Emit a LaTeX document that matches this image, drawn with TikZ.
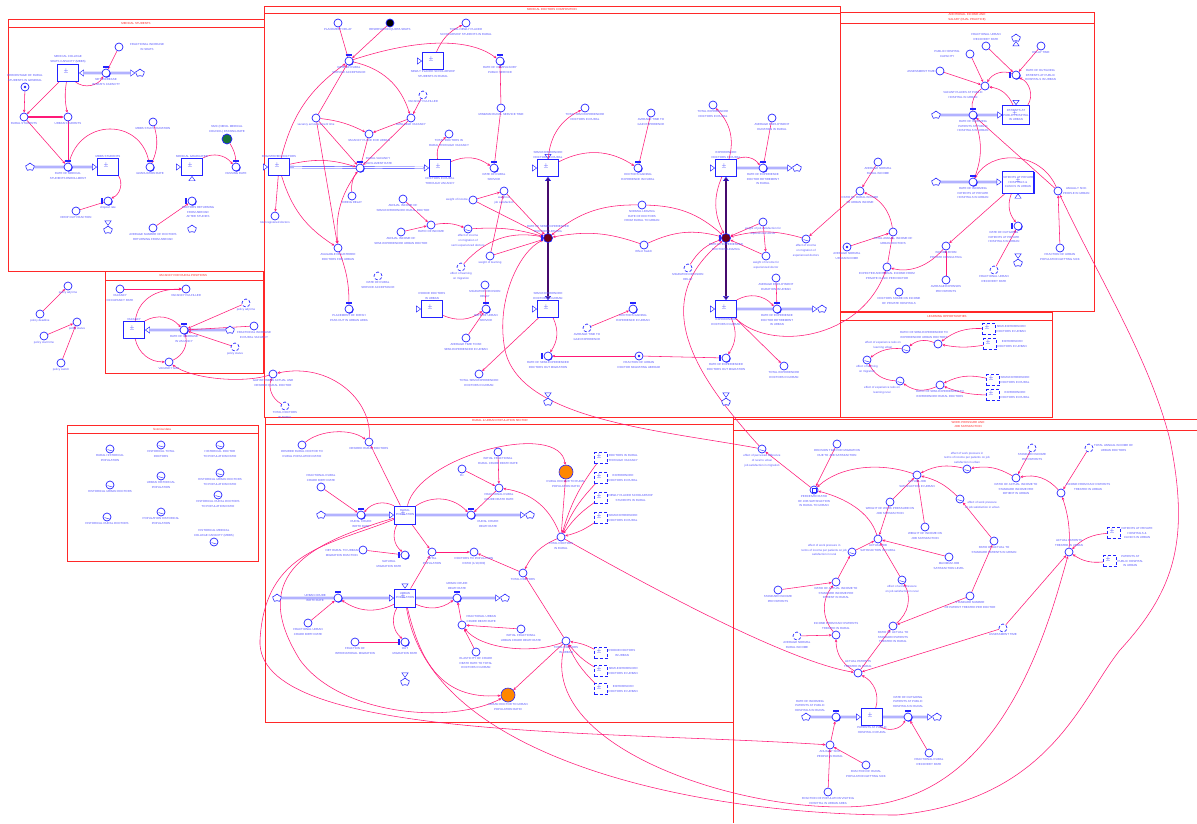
\documentclass[tikz,border=0pt]{standalone}
\usepackage{fontspec}
\setmainfont{Liberation Sans}
\usetikzlibrary{arrows.meta,shapes.symbols,shadows,backgrounds}
\definecolor{sdblue}{RGB}{35,35,255}
\definecolor{lblue}{RGB}{85,85,255}
\definecolor{sdpink}{RGB}{255,25,120}
\definecolor{sdred}{RGB}{255,40,40}
\definecolor{valvedark}{RGB}{110,0,25}
\definecolor{flowpurple}{RGB}{70,10,110}
\definecolor{sdorange}{RGB}{255,135,0}
\definecolor{sdgreen}{RGB}{25,115,55}
\newcommand\lbfont{\fontsize{2.9}{4.9}\selectfont}
\newcommand\pmfont{\fontsize{4.5}{4.5}\selectfont}
\begin{document}
\begin{tikzpicture}[x=1pt,y=-1pt,
    lb/.style={text=lblue,font=\lbfont,align=center,inner sep=0.6pt},
    sectitle/.style={text=sdred,font=\lbfont,align=center,inner sep=0pt},
    aux/.style={circle,draw=sdblue,line width=0.7pt,minimum size=8pt,inner sep=0pt,fill=white},
    ghost/.style={aux,densely dashed},
    dotaux/.style={aux,path picture={\fill[sdblue] (path picture bounding box.center) circle[radius=1.4pt];}},
    lookup/.style={aux,path picture={\draw[sdblue,line width=0.4pt] ([shift={(-2.4pt,-0.6pt)}]path picture bounding box.center) .. controls +(1.2pt,-1.8pt) and +(-1.2pt,1.2pt) .. ([shift={(2.4pt,-1.6pt)}]path picture bounding box.center);}},
    smoothaux/.style={aux,path picture={\draw[sdblue,line width=0.4pt] ([shift={(-2pt,-2pt)}]path picture bounding box.center) rectangle ([shift={(2pt,2pt)}]path picture bounding box.center);}},
    valvecap/.style={rectangle,fill=sdblue,minimum width=5.5pt,minimum height=2.2pt,inner sep=0pt},
    valvecapl/.style={rectangle,fill=sdblue,minimum width=2.2pt,minimum height=5.5pt,inner sep=0pt},
    valve/.style={aux,drop shadow={shadow xshift=0.7pt,shadow yshift=-0.7pt,fill=sdblue,opacity=1},label={[valvecap]90:{}}},
    valvel/.style={aux,drop shadow={shadow xshift=0.7pt,shadow yshift=-0.7pt,fill=sdblue,opacity=1},label={[valvecapl]180:{}}},
    darkvalve/.style={aux,fill=valvedark,minimum size=9pt,label={[valvecapl]180:{}}},
    orangeaux/.style={circle,draw=sdblue,fill=sdorange,line width=0.6pt,minimum size=14pt,inner sep=0pt},
    stock/.style={rectangle,draw=sdblue,line width=0.9pt,minimum width=21pt,minimum height=17pt,inner sep=0.5pt,fill=white,
        drop shadow={shadow xshift=0.9pt,shadow yshift=-0.9pt,fill=sdblue,opacity=1},
        path picture={\node[font=\pmfont,text=sdblue,inner sep=0pt,anchor=south east] at ([shift={(-1.5pt,1pt)}]path picture bounding box.south east) {$\pm$};}},
    popstock/.style={stock,minimum width=21pt,minimum height=18pt},
    gstock/.style={rectangle,draw=sdblue,densely dashed,line width=0.7pt,minimum width=13pt,minimum height=11pt,inner sep=0pt,fill=white,
        path picture={\node[font=\pmfont,text=sdblue,inner sep=0pt,anchor=south east] at ([shift={(-1.5pt,1pt)}]path picture bounding box.south east) {$\pm$};}},
    cloudn/.style={cloud,cloud puffs=5,aspect=1.1,draw=sdblue,line width=0.6pt,minimum width=9pt,minimum height=8pt,inner sep=0pt,fill=white},
    pipe/.style={draw=sdblue,double=white,double distance=1.3pt,line width=0.45pt},
    pipeto/.style={pipe,-{Triangle[fill=white,length=5pt,width=7pt]}},
    pipebi/.style={pipe,{Triangle[fill=white,length=5pt,width=7pt]}-{Triangle[fill=white,length=5pt,width=7pt]}},
    bigflow/.style={draw=sdblue,double=flowpurple,double distance=1.8pt,line width=0.4pt,{Triangle[fill=flowpurple,length=4pt,width=6pt]}-{Triangle[fill=flowpurple,length=4pt,width=6pt]}},
    cn/.style={draw=sdpink,line width=0.55pt,-{Stealth[length=2.8pt,width=2.6pt]}},
    sector/.style={draw=sdred,line width=0.8pt}
]
\useasboundingbox (0,0) rectangle (1197,823);

\node[sectitle] (tms) at (136,23) {MEDICAL STUDENTS};
\node[sectitle] (tdc) at (552,9.5) {MEDICAL DOCTORS COMPOSITION};
\node[sectitle] (tai) at (967,17.5) {ADDITIONAL INCOME AND\\SALARY (DUAL PRACTICE)};
\node[sectitle] (tlo) at (947,316) {LEARNING OPPORTUNITIES};
\node[sectitle] (twp) at (968,424.5) {WORK PRESSURE AND\\JOB SATISFACTION};
\node[sectitle] (tvr) at (183,275.5) {VACANCY FOR RURAL POSITIONS};
\node[sectitle] (thd) at (162,429) {historical data};
\node[sectitle] (tps) at (500,420.5) {RURAL \& URBAN POPULATION SECTOR};

\node[aux,label={[lb,label distance=6pt]right:{FRACTIONAL INCREASE\\IN SEATS}}] (fis) at (119,47) {};
\node[stock,label={[lb]above:{MEDICAL COLLEGE\\SEATS CAPACITY (MBBS)}}] (msc) at (68,73) {};
\node[valve,label={[lb]below:{NET INCREASE\\IN SEATS CAPACITY}}] (nis) at (106,73) {};
\node[cloudn] (c1) at (140,73) {};
\node[dotaux,label={[lb]above:{PERCENTAGE OF RURAL\\STUDENTS IN GENERAL}}] (pct) at (25,87) {};
\node[aux,label={[lb]below:{RURAL STUDENTS}}] (rst) at (24,117) {};
\node[aux,label={[lb]below:{URBAN STUDENTS}}] (ust) at (68,117) {};
\node[aux,label={[lb]below:{MBBS STUDY DURATION}}] (msd) at (153,122) {};
\node[aux,fill=sdgreen,minimum size=10pt,label={[lb]above:{NMC (NEPAL MEDICAL\\COUNCIL) PASSING RATE}}] (nmc) at (227,139) {};
\node[valve,label={[lb]below:{RATE OF MEDICAL\\STUDENTS ENROLLMENT}}] (rme) at (68,167) {};
\node[cloudn] (c2) at (30,167) {};
\node[stock,label={[lb]above:{MBBS STUDENTS}}] (mbs) at (108,167) {};
\node[valve,label={[lb]below:{GRADUATION RATE}}] (grr) at (150,167) {};
\node[stock,label={[lb]above:{MEDICAL GRADUATED}}] (mgr) at (192,167) {};
\node[valve,label={[lb]below:{PASSING RATE}}] (psr) at (236,167) {};
\node[stock,label={[lb]above:{REGISTERED DOCTORS}}] (rgd) at (279,167) {};
\node[valvel,label={[lb]below:{dropout rate}}] (dor) at (108,201) {};
\node[cloudn] (c3) at (108,230) {};
\node[aux,label={[lb]below:{DROP OUT FRACTION}}] (dof) at (76,211) {};
\node[valvel,label={[lb,xshift=6pt]below:{DOCTORS RETURNING\\FROM ABROAD\\AFTER STUDIES}}] (dra) at (192,201) {};
\node[cloudn] (c4) at (192,229) {};
\node[aux,label={[lb]below:{AVERAGE NUMBER OF DOCTORS\\RETURNING FROM ABROAD}}] (anr) at (153,228) {};
\node[aux,label={[lb]below:{total registered doctors}}] (trd) at (275,216) {};

\node[aux,label={[lb]below:{PLACEMENT DELAY}}] (pld) at (338,23) {};
\node[aux,fill=black,label={[lb]below:{RESERVATION QUOTA SEATS}}] (rqs) at (390,23) {};
\node[aux,label={[lb]below:{TOTAL NEWLY PLACED\\SCHOLARSHIP STUDENTS IN RURAL}}] (tnp) at (466,23) {};
\node[valve,label={[lb]below:{RATE OF RURAL\\SERVICE ACCEPTANCE}}] (rrsa) at (349,61) {};
\node[stock,label={[lb]below:{NEWLY PLACED SCHOLARSHIP\\STUDENTS IN RURAL}}] (nps) at (433,61) {};
\node[valve,label={[lb]below:{RATE OF COMPULSORY\\PUBLIC SERVICE}}] (rcps) at (500,61) {};
\node[ghost,label={[lb]below:{VACANCY FULFILLED}}] (vff) at (423,95) {};
\node[aux,label={[lb]below:{AVAILABLE VACANCY}}] (avv) at (411,118) {};
\node[aux,label={[lb]below:{vacancy announcement time}}] (vat) at (316,118) {};
\node[aux,label={[lb]below:{VACANCY PLACE FOR URBAN}}] (vpu) at (369,134) {};
\node[aux,label={[lb]below:{TOTAL DOCTORS IN\\RURAL THROUGH VACANCY}}] (tdrv) at (449,134) {};
\node[aux,label={[lb]below:{MINIMUM RURAL SERVICE TIME}}] (mrst) at (501,108) {};
\node[aux,label={[lb]below:{TOTAL SEMI EXPERIENCED\\DOCTORS IN RURAL}}] (tser) at (585,108) {};
\node[valve,label={[lb]40:{RURAL VACANCY\\FULFILLMENT RATE}}] (rvfr) at (360,168) {};
\node[stock,label={[lb]below:{DOCTORS IN RURAL\\THROUGH VACANCY}}] (dirv) at (440,168) {};
\node[valve,label={[lb]below:{RATE OF RURAL\\SERVICE}}] (rrs) at (494,168) {};
\node[stock,label={[lb]above:{SEMI-EXPERIENCED\\DOCTORS IN RURAL}}] (serr) at (548,168) {};
\node[aux,label={[lb]below:{HIRING DELAY}}] (hrd) at (352,196) {};
\node[aux,label={[lb]left:{weight of income}}] (woi) at (473,200) {};
\node[aux,label={[lb]below:{weight of\\job satisfaction}}] (wjs) at (504,191) {};
\node[aux,label={[lb]below:{ANNUAL INCOME OF\\SEMI-EXPERIENCED RURAL DOCTOR}}] (aisr) at (403,199) {};
\node[aux,label={[lb]below:{RATIO OF INCOME}}] (roi) at (431,225) {};
\node[aux,label={[lb]below:{ANNUAL INCOME OF\\SEMI-EXPERIENCED URBAN DOCTOR}}] (aisu) at (401,232) {};
\node[lookup,label={[lb]below:{effect of income\\on migration of\\semi experienced doctors}}] (eim) at (468,229) {};
\node[aux,label={[lb]below:{weight of learning}}] (wol) at (490,256) {};
\node[ghost,label={[lb]below:{effect of learning\\on migration}}] (elm) at (461,267) {};
\node[darkvalve,label={[lb]above:{RATE OF SEMI-EXPERIENCED\\DOCTORS LEAVING}}] (rsl) at (548,238) {};
\node[aux,label={[lb]below:{AVAILABLE REGISTERED\\DOCTORS FOR URBAN}}] (ardu) at (338,248) {};
\node[ghost,label={[lb]below:{RATE OF RURAL\\SERVICE ACCEPTANCE}}] (rrsg) at (378,276) {};

\node[aux,label={[lb]below:{AVERAGE TIME TO\\GAIN EXPERIENCE}}] (atge) at (651,113) {};
\node[valve,label={[lb]below:{DOCTORS GAINING\\EXPERIENCE IN RURAL}}] (dger) at (638,168) {};
\node[aux,label={[lb]below:{TOTAL EXPERIENCED\\DOCTORS IN RURAL}}] (tedr) at (713,105) {};
\node[stock,label={[lb]above:{EXPERIENCED\\DOCTORS IN RURAL}}] (edr) at (726,168) {};
\node[aux,label={[lb]below:{AVERAGE EMPLOYMENT\\DURATION IN RURAL}}] (aedr) at (772,118) {};
\node[valve,label={[lb]below:{RATE OF EXPERIENCE\\DOCTOR RETIREMENT\\IN RURAL}}] (redr) at (763,168) {};
\node[cloudn] (c5) at (797,168) {};
\node[aux,label={[lb]below:{NORMAL LEAVING\\RATE OF DOCTORS\\FROM RURAL TO URBAN}}] (nlr) at (642,205) {};
\node[aux,label={[lb]below:{Effect Switch}}] (esw) at (644,245) {};
\node[darkvalve,label={[lb]below:{RATE OF EXPERIENCED\\DOCTORS LEAVING}}] (rel) at (726,238) {};
\node[aux,label={[lb]below:{weight of job satisfaction for\\experienced doctor}}] (wje) at (763,222) {};
\node[aux,label={[lb]below:{weight of income for\\experienced doctor}}] (wie) at (766,256) {};
\node[lookup,label={[lb]below:{effect of income\\on migration of\\experienced doctors}}] (eie) at (806,239) {};
\node[ghost,label={[lb]below:{MIGRATION DECISION\\DELAY}}] (mddg) at (688,268) {};
\node[aux,label={[lb]below:{AVERAGE NORMAL\\RURAL INCOME}}] (anri) at (878,162) {};
\node[aux,label={[lb]below:{RATIO OF RURAL INCOME\\TO URBAN INCOME}}] (rrui) at (860,191) {};
\node[dotaux,label={[lb]below:{AVERAGE NORMAL\\URBAN INCOME}}] (anui) at (847,247) {};
\node[aux,label={[lb]below:{TOTAL ANNUAL INCOME OF\\URBAN DOCTORS}}] (taiu) at (893,232) {};
\node[aux,label={[lb]below:{EXPECTED ADDITIONAL INCOME FROM\\PRIVATE CLINIC PER DOCTOR}}] (eaic) at (887,267) {};
\node[aux,label={[lb]below:{DOCTORS SHARE ON INCOME\\OF PRIVATE HOSPITALS}}] (dsip) at (899,292) {};

\node[aux,label={[lb]above:{FRACTIONAL URBAN\\RECOVERY RATE}}] (furr) at (986,46) {};
\node[aux,label={[lb,label distance=5pt]left:{PUBLIC HOSPITAL\\CAPACITY}}] (phc) at (970,54) {};
\node[aux,label={[lb]below:{DELAY TIME}}] (dlt) at (1041,46) {};
\node[aux,label={[lb]left:{ASSESSMENT TIME}}] (ast) at (940,71) {};
\node[valvel,label={[lb,label distance=4pt]right:{RATE OF OUTGOING\\PATIENTS AT PUBLIC\\HOSPITALS IN URBAN}}] (ropu) at (1016,75) {};
\node[cloudn] (c6) at (1016,38) {};
\node[aux,label={[lb,xshift=-22pt]below:{VACANT PLACES AT PUBLIC\\HOSPITAL IN URBAN}}] (vpph) at (985,86) {};
\node[valve,label={[lb]below:{RATE OF INCOMING\\PATIENTS AT PUBLIC\\HOSPITALS IN URBAN}}] (ripu) at (973,115) {};
\node[cloudn] (c7) at (936,115) {};
\node[stock,minimum width=25pt,minimum height=19pt,font=\lbfont,text=lblue,align=center] (ppu) at (1016,115) {PATIENTS AT\\PUBLIC HOSPITAL\\IN URBAN};
\node[valve,label={[lb]below:{RATE OF INCOMING\\PATIENTS AT PRIVATE\\HOSPITALS IN URBAN}}] (ripv) at (973,182) {};
\node[cloudn] (c8) at (936,182) {};
\node[stock,minimum width=28pt,minimum height=22pt,font=\lbfont,text=lblue,align=center] (ppcu) at (1018,182) {PATIENTS AT PRIVATE\\HOSPITALS \&\\CLINICS IN URBAN};
\node[aux,label={[lb]right:{ANUALLY SICK\\PEOPLE IN URBAN}}] (asu) at (1058,191) {};
\node[valvel,label={[lb,xshift=-14pt]below:{RATE OF OUTGOING\\PATIENTS AT PRIVATE\\HOSPITALS IN URBAN}}] (ropv) at (1018,226) {};
\node[cloudn] (c9) at (1018,263) {};
\node[aux,label={[lb]below:{FRACTION OF URBAN\\POPULATION GETTING SICK}}] (fus) at (1060,248) {};
\node[aux,label={[lb]below:{INCOME FROM\\PRIVATE CONSULTING}}] (ipc) at (946,246) {};
\node[ghost,label={[lb]below:{FRACTIONAL URBAN\\RECOVERY RATE}}] (furr2) at (994,270) {};
\node[aux,label={[lb]below:{AVERAGE EXPENSES\\PER PATIENTS}}] (aep) at (946,280) {};

\node[lookup,label={[lb,yshift=4pt]left:{effect of experience ratio on\\learning urban}}] (eerlu) at (906,349) {};
\node[aux,label={[lb,xshift=-14pt]above:{RATIO OF SEMI-EXPERIENCED TO\\EXPERIENCED URBAN DOCTORS}}] (rseu) at (938,344) {};
\node[lookup,label={[lb]below:{effect of learning\\on migration}}] (elmg) at (867,360) {};
\node[lookup,label={[lb,xshift=-18pt]below:{effect of experience ratio on\\learning rural}}] (eerlr) at (900,381) {};
\node[aux,label={[lb]below:{RATIO OF SEMI-EXPERIENCED TO\\EXPERIENCED RURAL DOCTORS}}] (rser) at (940,385) {};
\node[gstock,label={[lb]right:{SEMI-EXPERIENCED\\DOCTORS IN URBAN}}] (g1) at (989,329) {};
\node[gstock,label={[lb]right:{EXPERIENCED\\DOCTORS IN URBAN}}] (g2) at (990,344) {};
\node[gstock,label={[lb]right:{SEMI-EXPERIENCED\\DOCTORS IN RURAL}}] (g3) at (993,380) {};
\node[gstock,label={[lb]right:{EXPERIENCED\\DOCTORS IN RURAL}}] (g4) at (993,395) {};

\node[valve,label={[lb]below:{PLACEMENT OF FRESH\\PASS OUT IN URBAN AREA}}] (pfpu) at (349,309) {};
\node[stock,label={[lb]above:{ROOKIE DOCTORS\\IN URBAN}}] (rdu) at (432,309) {};
\node[aux,label={[lb]below:{MIGRATION DECISION\\DELAY}}] (mdd) at (485,285) {};
\node[valve,label={[lb]below:{RATE OF URBAN\\SERVICE}}] (rus) at (486,309) {};
\node[aux,label={[lb]below:{AVERAGE TIME TO BE\\SEMI-EXPERIENCED IN URBAN}}] (atsu) at (466,338) {};
\node[stock,label={[lb]above:{SEMI-EXPERIENCED\\DOCTORS IN URBAN}}] (seu) at (548,309) {};
\node[aux,label={[lb]below:{TOTAL SEMI-EXPERIENCED\\DOCTORS IN URBAN}}] (tseu) at (479,374) {};
\node[valvel,label={[lb]below:{RATE OF SEMI-EXPERIENCED\\DOCTORS OUT MIGRATION}}] (rsom) at (548,356) {};
\node[cloudn] (c10) at (548,402) {};
\node[ghost,label={[lb]below:{AVERAGE TIME TO\\GAIN EXPERIENCE}}] (atge2) at (587,328) {};
\node[valve,label={[lb]below:{DOCTORS GAINING\\EXPERIENCE IN URBAN}}] (dgeu) at (633,309) {};
\node[stock,label={[lb]below:{EXPERIENCED\\DOCTORS IN URBAN}}] (edu) at (726,309) {};
\node[aux,label={[lb]below:{AVERAGE EMPLOYMENT\\DURATION IN URBAN}}] (aedu) at (776,278) {};
\node[valve,label={[lb]below:{RATE OF EXPERIENCE\\DOCTOR RETIREMENT\\IN URBAN}}] (redu) at (777,309) {};
\node[cloudn] (c11) at (822,309) {};
\node[dotaux,label={[lb]below:{FRACTION OF URBAN\\DOCTOR MIGRATING ABROAD}}] (fuma) at (639,356) {};
\node[valvel,label={[lb]below:{RATE OF EXPERIENCED\\DOCTORS OUT MIGRATION}}] (reom) at (726,358) {};
\node[cloudn] (c12) at (726,402) {};
\node[aux,label={[lb]below:{TOTAL EXPERIENCED\\DOCTORS IN URBAN}}] (teu) at (784,366) {};

\node[aux,label={[lb]below:{VACANCY\\OCCUPANCY RATE}}] (vor) at (120,289) {};
\node[aux,label={[lb]below:{VACANCY FULFILLED}}] (vfl) at (186,289) {};
\node[stock,label={[lb]above:{VACANCY}}] (vac) at (134,330) {};
\node[valve,label={[lb]below:{RATE OF INCREASE\\IN VACANCY}}] (riv) at (184,330) {};
\node[cloudn] (c20) at (230,330) {};
\node[ghost,label={[lb]below:{policy adj time}}] (pat) at (246,303) {};
\node[aux,label={[lb]below:{FRACTIONAL INCREASE\\IN RURAL VACANCY}}] (fiv) at (254,326) {};
\node[ghost,label={[lb]below:{policy status}}] (pst) at (235,347) {};
\node[aux,label={[lb]below:{VACANCY GAP}}] (vgp) at (169,362) {};
\node[aux,label={[lb]below:{GAP BETWEEN ACTUAL AND\\DESIRED RURAL DOCTOR}}] (gap) at (273,374) {};
\node[ghost,label={[lb]below:{TOTAL DOCTORS\\IN RURAL}}] (tdrg) at (285,406) {};

\node[aux,label={[lb]below:{policy adj time}}] (pat1) at (68,286) {};
\node[aux,label={[lb]below:{policy deadline}}] (pdl) at (40,314) {};
\node[aux,label={[lb]below:{policy status}}] (pst1) at (77,322) {};
\node[aux,label={[lb]below:{policy start time}}] (pstt) at (44,336) {};
\node[aux,label={[lb]below:{policy switch}}] (psw) at (61,363) {};

\node[lookup,label={[lb]below:{RURAL HISTORICAL\\POPULATION}}] (hrp) at (110,449) {};
\node[lookup,label={[lb]below:{HISTORICAL TOTAL\\DOCTORS}}] (htd) at (161,445) {};
\node[lookup,label={[lb]below:{HISTORICAL DOCTOR\\TO POPULATION RATIO}}] (hdp) at (220,445) {};
\node[lookup,label={[lb]below:{HISTORICAL URBAN DOCTORS}}] (hud) at (110,485) {};
\node[lookup,label={[lb]below:{URBAN HISTORICAL\\POPULATION}}] (hup) at (161,476) {};
\node[lookup,label={[lb]below:{HISTORICAL URBAN DOCTORS\\TO POPULATION RATIO}}] (hudp) at (220,473) {};
\node[lookup,label={[lb]below:{HISTORICAL RURAL DOCTORS\\TO POPULATION RATIO}}] (hrdp) at (218,495) {};
\node[lookup,label={[lb]below:{HISTORICAL RURAL DOCTORS}}] (hrdc) at (107,517) {};
\node[lookup,label={[lb]below:{POPULATION HISTORICAL\\POPULATION}}] (hpp) at (161,512) {};
\node[lookup,label={[lb]above:{HISTORICAL MEDICAL\\COLLEGE CAPACITY (MBBS)}}] (hmc) at (214,542) {};

\node[aux,label={[lb]below:{DESIRED RURAL DOCTOR TO\\RURAL POPULATION RATIO}}] (drpr) at (302,445) {};
\node[aux,label={[lb]below:{DESIRED RURAL DOCTORS}}] (drd) at (369,442) {};
\node[aux,label={[lb]above:{FRACTIONAL RURAL\\CRUDE BIRTH RATE}}] (frcb) at (321,487) {};
\node[valve,label={[lb]below:{RURAL CRUDE\\BIRTH RATE}}] (rcbr) at (361,515) {};
\node[cloudn] (c13) at (321,515) {};
\node[popstock,label={[lb,yshift=2.5pt]center:{RURAL\\POPULATION}}] (rpop) at (405,515) {};
\node[aux,label={[lb]below:{Dc}}] (dc) at (462,469) {};
\node[aux,label={[lb]below:{INITIAL FRACTIONAL\\RURAL CRUDE DEATH RATE}}] (ifrc) at (498,452) {};
\node[aux,label={[lb]below:{FRACTIONAL RURAL\\CRUDE DEATH RATE}}] (frcd) at (499,488) {};
\node[valve,label={[lb,xshift=17pt]below:{RURAL CRUDE\\DEATH RATE}}] (rcdr) at (471,515) {};
\node[cloudn] (c14) at (530,515) {};
\node[orangeaux,label={[lb]below:{RURAL DOCTOR TO RURAL\\POPULATION RATIO}}] (rdrp) at (566,472) {};
\node[aux,label={[lb]below:{TOTAL DOCTORS\\IN RURAL}}] (tdr) at (561,537) {};
\node[gstock,label={[lb]right:{DOCTORS IN RURAL\\THROUGH VACANCY}}] (gr1) at (601,458) {};
\node[gstock,label={[lb]right:{EXPERIENCED\\DOCTORS IN RURAL}}] (gr2) at (601,478) {};
\node[gstock,label={[lb]right:{NEWLY PLACED SCHOLARSHIP\\STUDENTS IN RURAL}}] (gr3) at (601,498) {};
\node[gstock,label={[lb]right:{SEMI-EXPERIENCED\\DOCTORS IN RURAL}}] (gr4) at (601,518) {};
\node[aux,label={[lb,yshift=-3pt]left:{NET RURAL TO URBAN\\MIGRATION FRACTION}}] (nrum) at (363,550) {};
\node[valvel,label={[lb,xshift=-16pt]below:{NATURAL\\MIGRATION RATE}}] (nmr) at (405,555) {};
\node[aux,label={[lb]below:{TOTAL\\POPULATION}}] (tpop) at (432,552) {};
\node[aux,label={[lb]below:{DOCTORS TO POPULATION\\RATIO (1/10,000)}}] (dpr) at (474,552) {};
\node[aux,label={[lb]below:{TOTAL DOCTORS}}] (tdoc) at (523,573) {};
\node[valve,label={[lb,label distance=7pt]left:{URBAN CRUDE\\BIRTH RATE}}] (ucbr) at (338,598) {};
\node[cloudn] (c15) at (277,598) {};
\node[popstock,label={[lb,yshift=2.5pt]center:{URBAN\\POPULATION}}] (upop) at (405,598) {};
\node[valve,label={[lb,label distance=3pt]above:{URBAN CRUDE\\DEATH RATE}}] (ucdr) at (457,598) {};
\node[cloudn] (c16) at (505,598) {};
\node[aux,label={[lb]below:{FRACTIONAL URBAN\\CRUDE BIRTH RATE}}] (fucb) at (308,623) {};
\node[aux,label={[lb]below:{FRACTION OF\\INTERNATIONAL MIGRATION}}] (fim) at (355,642) {};
\node[valvel,label={[lb]below:{OUT\\MIGRATION RATE}}] (omr) at (405,642) {};
\node[cloudn] (c17) at (405,682) {};
\node[aux,label={[lb]30:{FRACTIONAL URBAN\\CRUDE DEATH RATE}}] (fucd) at (462,625) {};
\node[aux,label={[lb]below:{INITIAL FRACTIONAL\\URBAN CRUDE DEATH RATE}}] (ifuc) at (521,629) {};
\node[aux,label={[lb]below:{ELASTICITY OF CRUDE\\DEATH RATE TO TOTAL\\DOCTORS IN URBAN}}] (ecd) at (476,652) {};
\node[aux,label={[lb]below:{TOTAL DOCTORS\\IN URBAN}}] (tdu) at (566,641) {};
\node[orangeaux,label={[lb]below:{URBAN DOCTOR TO URBAN\\POPULATION RATIO}}] (udrp) at (508,695) {};
\node[gstock,label={[lb]right:{ROOKIE DOCTORS\\IN URBAN}}] (gu1) at (601,653) {};
\node[gstock,label={[lb]right:{SEMI-EXPERIENCED\\DOCTORS IN URBAN}}] (gu2) at (601,671) {};
\node[gstock,label={[lb]right:{EXPERIENCED\\DOCTORS IN URBAN}}] (gu3) at (601,689) {};

\node[lookup,label={[lb]below:{effect of perceived difference\\of rural to urban\\job satisfaction in migration}}] (epd) at (762,449) {};
\node[aux,label={[lb]below:{DECISION TIME FOR MIGRATION\\DUE TO JOB SATISFACTION}}] (dtm) at (837,444) {};
\node[smoothaux,label={[lb]below:{PERCEIVED RATIO\\OF JOB SATISFACTION\\IN RURAL TO URBAN}}] (prj) at (814,490) {};
\node[aux,label={[lb]below:{WEIGHT OF WORK PRESSURE ON\\JOB SATISFACTION}}] (wwp) at (890,502) {};
\node[aux,label={[lb]below:{ACTUAL JOB\\SATISFACTION IN URBAN}}] (ajsu) at (917,475) {};
\node[lookup,label={[lb]above:{effect of work pressure in\\terms of income per patients on job\\satisfaction in urban}}] (ewiu) at (967,469) {};
\node[ghost,label={[lb]below:{STANDARD INCOME\\PER PATIENTS}}] (sipu) at (1032,448) {};
\node[ghost,label={[lb]right:{TOTAL ANNUAL INCOME OF\\URBAN DOCTORS}}] (taiu2) at (1089,448) {};
\node[aux,label={[lb]below:{RATIO OF ACTUAL INCOME TO\\STANDARD INCOME PER\\PATIENT IN URBAN}}] (riu) at (1016,478) {};
\node[aux,label={[lb]20:{INCOME FROM EACH PATIENTS\\TREATED IN URBAN}}] (ieu) at (1061,493) {};
\node[lookup,label={[lb]-20:{effect of work pressure\\on job satisfaction in urban}}] (ewu) at (960,499) {};
\node[aux,label={[lb]below:{WEIGHT OF INCOME ON\\JOB SATISFACTION}}] (wij) at (925,527) {};
\node[aux,label={[lb]below:{RATIO OF ACTUAL TO\\STANDARD PATIENTS IN URBAN}}] (rspu) at (994,541) {};
\node[aux,label={[lb]above:{ACTUAL PATIENTS\\TREATED IN URBAN}}] (apu) at (1069,552) {};
\node[gstock,label={[lb]right:{PATIENTS AT PRIVATE\\HOSPITALS \&\\CLINICS IN URBAN}}] (g5) at (1114,533) {};
\node[gstock,label={[lb]right:{PATIENTS AT\\PUBLIC HOSPITAL\\IN URBAN}}] (g6) at (1110,561) {};
\node[aux,label={[lb]below:{MAXIMUM JOB\\SATISFACTION LEVEL}}] (mjs) at (949,557) {};
\node[lookup,label={[lb]below:{effect of work pressure\\on job satisfaction in rural}}] (ewr) at (902,580) {};
\node[aux,label={[lb]below:{STANDARD NUMBER\\OF PATIENT TREATED PER DOCTOR}}] (snp) at (970,596) {};
\node[ghost,label={[lb]below:{ASSESSMENT TIME}}] (ast2) at (1003,628) {};
\node[aux,label={[lb]below:{RATIO OF ACTUAL TO\\STANDARD PATIENTS\\TREATED IN RURAL}}] (rspr) at (893,626) {};
\node[aux,label={[lb]below:{ACTUAL JOB\\SATISFACTION IN RURAL}}] (ajsr) at (878,539) {};
\node[lookup,label={[lb,yshift=2pt]left:{effect of work pressure in\\terms of income per patients on job\\satisfaction in rural}}] (ewir) at (852,552) {};
\node[aux,label={[lb]below:{RATIO OF ACTUAL INCOME TO\\STANDARD INCOME PER\\PATIENT IN RURAL}}] (rir) at (836,582) {};
\node[aux,label={[lb]below:{STANDARD INCOME\\PER PATIENTS}}] (sip) at (778,590) {};
\node[aux,label={[lb]above:{INCOME FROM EACH PATIENTS\\TREATED IN RURAL}}] (ier) at (836,635) {};
\node[ghost,label={[lb]below:{AVERAGE NORMAL\\RURAL INCOME}}] (anri2) at (797,636) {};
\node[aux,label={[lb]above:{ACTUAL PATIENTS\\TREATED IN RURAL}}] (apr) at (858,673) {};
\node[valve,label={[lb,xshift=-26pt]above:{RATE OF INCOMING\\PATIENTS AT PUBLIC\\HOSPITALS IN RURAL}}] (rip) at (836,717) {};
\node[cloudn] (c18) at (806,717) {};
\node[stock,label={[lb]below:{PATIENTS AT PUBLIC\\HOSPITAL IN RURAL}}] (pphr) at (872,717) {};
\node[valve,label={[lb,label distance=4pt]above:{RATE OF OUTGOING\\PATIENTS AT PUBLIC\\HOSPITALS IN RURAL}}] (rop) at (908,717) {};
\node[cloudn] (c19) at (937,717) {};
\node[aux,label={[lb]below:{FRACTIONAL RURAL\\RECOVERY RATE}}] (frrr) at (929,753) {};
\node[aux,label={[lb]below:{ANUALLY SICK\\PEOPLE IN RURAL}}] (asr) at (830,745) {};
\node[aux,label={[lb]below:{FRACTION OF RURAL\\POPULATION GETTING SICK}}] (frs) at (866,765) {};
\node[aux,label={[lb]below:{FRACTION OF POPULATION VISITING\\HOSPITAL IN URBAN AREA}}] (fpv) at (828,792) {};

\begin{scope}[on background layer]
\fill[white] (0,0) rectangle (1197,823);
\draw[sector] (8,19) rectangle (264,271) (8,27) -- (264,27);
\draw[sector] (264,6) rectangle (840,417) (264,13) -- (840,13);
\draw[sector] (840,12) rectangle (1094,311) (840,23) -- (1094,23);
\draw[sector] (840,312) rectangle (1052,417) (840,320) -- (1052,320);
\draw[sector] (1197,419) -- (733,419) -- (733,823) (733,430) -- (1197,430);
\draw[sector] (105,271) rectangle (263,373) (105,280) -- (263,280);
\draw[sector] (67,425) rectangle (258,561) (67,433) -- (258,433);
\draw[sector] (265,417) rectangle (733,722) (265,424) -- (733,424);

\draw[pipebi] (msc) -- (c1);
\draw[pipeto] (c2) -- (mbs);
\draw[pipeto] (mbs) -- (mgr);
\draw[pipeto] (mgr) -- (rgd);
\draw[pipeto] (mbs) -- (c3);
\draw[pipeto] (c4) -- (mgr);
\draw[pipeto] (rgd) |- (nps);
\draw[pipeto] (nps) -| (serr);
\draw[pipeto] (rgd) -- (dirv);
\draw[pipeto] (dirv) -- (serr);
\draw[pipeto] (serr) -- (edr);
\draw[pipeto] (edr) -- (c5);
\draw[pipeto] (rgd) |- (rdu);
\draw[pipeto] (rdu) -- (seu);
\draw[pipeto] (seu) -- (edu);
\draw[pipeto] (edu) -- (c11);
\draw[bigflow] (serr) -- (seu);
\draw[bigflow] (edr) -- (edu);
\draw[pipeto] (seu) -- (c10);
\draw[pipeto] (edu) -- (c12);
\draw[pipeto] (c20) -- (vac);
\draw[pipeto] (c7) -- (ppu);
\draw[pipebi] (ppu) -- (c6);
\draw[pipeto] (c8) -- (ppcu);
\draw[pipebi] (ppcu) -- (c9);
\draw[pipeto] (c13) -- (rpop);
\draw[pipeto] (rpop) -- (c14);
\draw[pipeto] (rpop) -- (upop);
\draw[pipeto] (c15) -- (upop);
\draw[pipeto] (upop) -- (c16);
\draw[pipeto] (upop) -- (c17);
\draw[pipeto] (c18) -- (pphr);
\draw[pipeto] (pphr) -- (c19);

\draw[cn] (fis) -- (nis);
\draw[cn] (msc) to[bend right=50] (nis);
\draw[cn] (pct) -- (rst);
\draw[cn] (msc) -- (rst);
\draw[cn] (msc) to[bend right=10] (ust);
\draw[cn,line width=1.2pt] (rst) -- (ust);
\draw[cn] (rst) -- (rme);
\draw[cn] (ust) -- (rme);
\draw[cn] (rme) .. controls (80,118) and (140,118) .. (grr);
\draw[cn] (msd) to[bend left=20] (grr);
\draw[cn] (mbs) to[bend left=50] (dor);
\draw[cn] (dof) -- (dor);
\draw[cn] (anr) -- (dra);
\draw[cn] (mgr) to[bend left=40] (psr);
\draw[cn] (nmc) to[bend left=15] (psr);
\draw[cn] (rgd) -- (trd);

\draw[cn] (pld) -- (rrsa);
\draw[cn] (rqs) -- (rrsa);
\draw[cn] (nps) to[bend left=20] (tnp);
\draw[cn] (rrsa) .. controls (420,38) and (470,38) .. (rcps);
\draw[cn] (rrsa) to[bend left=30] (avv);
\draw[cn] (mrst) -- (rcps);
\draw[cn] (mrst) -- (rrs);
\draw[cn] (vff) -- (avv);
\draw[cn] (avv) -- (vpu);
\draw[cn] (avv) -- (rvfr);
\draw[cn] (vat) -- (rrsa);
\draw[cn] (vat) to[bend left=10] (vpu);
\draw[cn] (vat) -- (rvfr);
\draw[cn] (vat) -- (ardu);
\draw[cn] (vpu) -- (rvfr);
\draw[cn] (hrd) to[bend left=20] (rvfr);
\draw[cn] (dirv) to[bend left=30] (tdrv);
\draw[cn] (dirv) to[bend left=30] (rrs);
\draw[cn] (serr) to[bend left=30] (tser);
\draw[cn] (rgd) to[bend left=20] (rrsa);
\draw[cn] (rgd) to[bend left=15] (rvfr);
\draw[cn] (rgd) to[bend right=20] (ardu);
\draw[cn] (rvfr) to[bend right=20] (ardu);
\draw[cn] (ardu) to[bend left=10] (pfpu);
\draw[cn] (aisr) -- (roi);
\draw[cn] (aisu) -- (roi);
\draw[cn] (roi) to[bend left=15] (eim);
\draw[cn] (eim) to[bend left=10] (rsl);
\draw[cn] (woi) -- (rsl);
\draw[cn] (woi) -- (wjs);
\draw[cn] (wjs) -- (rsl);
\draw[cn] (wol) -- (wjs);
\draw[cn] (wol) -- (rsl);
\draw[cn] (elm) to[bend left=30] (rsl);
\draw[cn] (atge) -- (dger);
\draw[cn] (serr) to[bend left=30] (dger);
\draw[cn] (edr) to[bend right=30] (tedr);
\draw[cn] (edr) to[bend left=40] (redr);
\draw[cn] (aedr) -- (redr);
\draw[cn] (nlr) to[bend right=20] (rsl);
\draw[cn] (nlr) to[bend left=20] (rel);
\draw[cn] (esw) to[bend right=15] (rsl);
\draw[cn] (esw) to[bend left=20] (rel);
\draw[cn] (wje) -- (rel);
\draw[cn] (wje) -- (wie);
\draw[cn] (wie) -- (rel);
\draw[cn] (eie) to[bend right=15] (rel);
\draw[cn] (rrui) -- (eie);
\draw[cn] (anri) -- (rrui);
\draw[cn] (taiu) to[bend right=30] (rrui);
\draw[cn] (edr) to[bend right=25] (rel);
\draw[cn] (mddg) to[bend left=20] (rel);
\draw[cn] (eaic) -- (taiu);
\draw[cn] (anui) -- (taiu);
\draw[cn] (rdu) to[bend right=30] (rus);
\draw[cn] (mdd) -- (rus);
\draw[cn] (atsu) -- (rus);
\draw[cn] (seu) -- (tseu);
\draw[cn] (seu) to[bend left=30] (rsom);
\draw[cn] (fuma) -- (rsom);
\draw[cn] (fuma) -- (reom);
\draw[cn] (edu) -- (teu);
\draw[cn] (edu) to[bend left=40] (redu);
\draw[cn] (aedu) -- (redu);
\draw[cn] (edu) to[bend left=30] (reom);
\draw[cn] (atge2) -- (dgeu);
\draw[cn] (edu) .. controls (770,352) and (860,340) .. (eaic);
\draw[cn] (epd) .. controls (660,430) and (520,420) .. (505,350) .. controls (495,300) and (520,250) .. (rsl);
\draw[cn] (epd) .. controls (690,370) and (650,300) .. (rel);

\draw[cn] (g1) to[bend right=20] (rseu);
\draw[cn] (g2) to[bend left=10] (rseu);
\draw[cn] (rseu) to[bend right=30] (eerlu);
\draw[cn] (eerlu) to[bend right=20] (elmg);
\draw[cn] (g3) to[bend right=20] (rser);
\draw[cn] (g4) to[bend left=10] (rser);
\draw[cn] (rser) to[bend left=30] (eerlr);
\draw[cn] (eerlr) to[bend left=30] (elmg);

\draw[cn] (ast) -- (vpph);
\draw[cn] (phc) -- (vpph);
\draw[cn] (furr) -- (ropu);
\draw[cn] (dlt) -- (ropu);
\draw[cn] (ropu) to[bend right=40] (vpph);
\draw[cn] (ppu) to[bend right=30] (vpph);
\draw[cn] (ppu) to[bend right=50] (ropu);
\draw[cn] (vpph) to[bend right=30] (ripu);
\draw[cn] (ripu) to[bend left=20] (ripv);
\draw[cn] (asu) -- (ripu);
\draw[cn] (asu) .. controls (1040,150) and (990,150) .. (ripv);
\draw[cn] (fus) -- (asu);
\draw[cn] (ppcu) to[bend right=30] (ropv);
\draw[cn] (ppcu) -- (ipc);
\draw[cn] (aep) -- (ipc);
\draw[cn] (furr2) -- (ropv);
\draw[cn] (ipc) .. controls (925,270) and (905,272) .. (eaic);

\draw[cn] (vor) -- (vfl);
\draw[cn] (vac) .. controls (138,300) and (155,289) .. (vfl);
\draw[cn] (vac) to[bend left=40] (riv);
\draw[cn] (vac) to[bend right=40] (vgp);
\draw[cn] (vgp) to[bend right=40] (riv);
\draw[cn] (pat) -- (riv);
\draw[cn] (fiv) -- (riv);
\draw[cn] (pst) -- (riv);
\draw[cn] (gap) .. controls (240,384) and (190,378) .. (vgp);
\draw[cn] (tdrg) to[bend left=40] (gap);
\draw[cn] (drd) .. controls (372,400) and (330,362) .. (gap);
\draw[cn] (pdl) -- (pat1);
\draw[cn] (pstt) -- (pst1);
\draw[cn] (psw) -- (pst1);

\draw[cn] (drpr) .. controls (320,430) and (350,428) .. (drd);
\draw[cn] (rpop) -- (drd);
\draw[cn] (frcb) -- (rcbr);
\draw[cn] (rpop) to[bend right=40] (rcbr);
\draw[cn] (rpop) to[bend left=40] (rcdr);
\draw[cn] (dc) -- (frcd);
\draw[cn] (ifrc) -- (frcd);
\draw[cn] (frcd) -- (rcdr);
\draw[cn] (tdr) to[bend right=30] (frcd);
\draw[cn] (tdr) -- (rdrp);
\draw[cn] (rpop) .. controls (420,455) and (560,420) .. (rdrp);
\draw[cn] (gr1) to[bend right=10] (tdr);
\draw[cn] (gr2) to[bend right=10] (tdr);
\draw[cn] (gr3) to[bend right=10] (tdr);
\draw[cn] (gr4) to[bend left=10] (tdr);
\draw[cn] (tdr) to[bend right=20] (tdoc);
\draw[cn] (rpop) -- (tpop);
\draw[cn] (upop) -- (tpop);
\draw[cn] (tpop) -- (dpr);
\draw[cn] (tdoc) -- (dpr);
\draw[cn] (nrum) -- (nmr);
\draw[cn] (rpop) to[bend right=40] (nmr);
\draw[cn] (upop) to[bend left=30] (ucbr);
\draw[cn] (fucb) -- (ucbr);
\draw[cn] (upop) to[bend right=30] (ucdr);
\draw[cn] (fucd) -- (ucdr);
\draw[cn] (ifuc) -- (fucd);
\draw[cn] (ecd) -- (fucd);
\draw[cn] (tdu) .. controls (530,655) and (480,648) .. (fucd);
\draw[cn] (tdu) -- (udrp);
\draw[cn] (tdu) -- (tdoc);
\draw[cn] (gu1) to[bend right=10] (tdu);
\draw[cn] (gu2) to[bend left=10] (tdu);
\draw[cn] (gu3) to[bend left=10] (tdu);
\draw[cn] (upop) .. controls (420,660) and (440,700) .. (udrp);
\draw[cn] (fim) -- (omr);
\draw[cn] (upop) to[bend right=40] (omr);
\draw[cn] (rpop) .. controls (300,545) and (250,580) .. (300,660) .. controls (340,715) and (450,725) .. (udrp);
\draw[cn] (rpop) .. controls (330,545) and (265,550) .. (260,640) .. controls (255,740) and (600,730) .. (asr);
\draw[cn] (upop) .. controls (430,760) and (700,815) .. (897,815) .. controls (1050,800) and (1080,700) .. (1120,650) .. controls (1175,590) and (1190,540) .. (1170,440) .. controls (1150,360) and (1100,280) .. (asu);
\draw[cn] (tdu) .. controls (530,760) and (800,830) .. (897,800) .. controls (1010,770) and (1050,620) .. (apu);
\draw[cn] (tdr) .. controls (620,570) and (780,660) .. (apr);

\draw[cn] (prj) -- (epd);
\draw[cn] (dtm) -- (prj);
\draw[cn] (ajsu) .. controls (880,462) and (840,466) .. (prj);
\draw[cn] (ajsr) .. controls (870,512) and (845,498) .. (prj);
\draw[cn] (wwp) -- (ajsr);
\draw[cn] (wwp) -- (ajsu);
\draw[cn] (ewiu) to[bend right=20] (ajsu);
\draw[cn] (riu) to[bend right=20] (ewiu);
\draw[cn] (sipu) -- (riu);
\draw[cn] (taiu2) -- (ieu);
\draw[cn] (ieu) to[bend right=30] (riu);
\draw[cn] (apu) to[bend right=10] (ieu);
\draw[cn] (ewu) to[bend right=15] (ajsu);
\draw[cn] (rspu) -- (ewu);
\draw[cn] (wij) -- (ajsu);
\draw[cn] (g5) to[bend right=20] (apu);
\draw[cn] (g6) to[bend left=20] (apu);
\draw[cn] (ast2) -- (apu);
\draw[cn] (ast2) -- (apr);
\draw[cn] (snp) -- (rspr);
\draw[cn] (snp) -- (rspu);
\draw[cn] (rspr) to[bend right=40] (ewr);
\draw[cn] (ewr) -- (ajsr);
\draw[cn] (mjs) -- (ajsr);
\draw[cn] (apr) to[bend left=30] (ier);
\draw[cn] (anri2) -- (ier);
\draw[cn] (ier) to[bend left=40] (rir);
\draw[cn] (sip) -- (rir);
\draw[cn] (rir) -- (ewir);
\draw[cn] (ewir) -- (ajsr);
\draw[cn] (apr) -- (rspr);
\draw[cn] (pphr) to[bend right=40] (apr);
\draw[cn] (asr) -- (rip);
\draw[cn] (frs) -- (asr);
\draw[cn] (fpv) -- (asr);
\draw[cn] (frrr) -- (rop);
\draw[cn] (pphr) to[bend right=50] (rop);
\end{scope}
\end{tikzpicture}
\end{document}
